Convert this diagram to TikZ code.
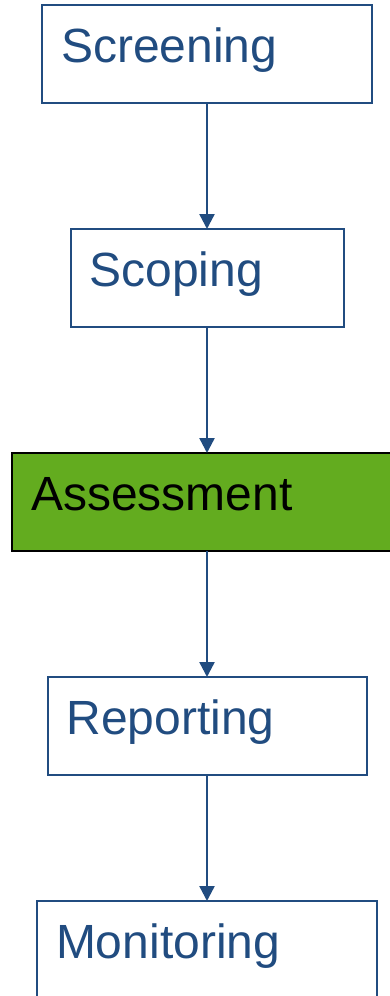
\documentclass[tikz,border=0pt]{standalone}
\usepackage{fontspec}
\setmainfont{Liberation Sans}
\usetikzlibrary{positioning, arrows.meta}
\definecolor{stageblue}{RGB}{33,76,128}
\definecolor{stagegreen}{RGB}{99,172,31}

\begin{document}
\begin{tikzpicture}[x=1pt, y=-1pt,
		stage/.style={draw=stageblue, line width=2pt, text=stageblue,
			font=\fontsize{48}{48}\selectfont, align=left, outer sep=0pt,
			minimum height=98pt, inner xsep=19pt, inner ysep=15pt,
			text height=42pt, text depth=26pt},
		current/.style={stage, draw=black, line width=1.4pt, fill=stagegreen, text=black},
		flow/.style={draw=stageblue, line width=2.4pt, -{Triangle[length=15pt, width=15pt]}},
		node distance=126pt
		]
		\useasboundingbox (0,0) rectangle (390,996);
		\clip (0,0) rectangle (390,996);
		\node [stage, text width=292pt, anchor=north] (screening) at (207,5) {Screening};
		\node [stage, text width=235pt, below=of screening] (scoping) {Scoping};
		\node [current, text width=352pt, below=of scoping] (assessment) {Assessment};
		\node [stage, text width=281pt, below=of assessment] (reporting) {Reporting};
		\node [stage, text width=302pt, below=of reporting] (monitoring) {Monitoring};
		\draw [flow] (screening) -- (scoping);
		\draw [flow] (scoping) -- (assessment);
		\draw [flow] (assessment) -- (reporting);
		\draw [flow] (reporting) -- (monitoring);
	\end{tikzpicture}
\end{document}
